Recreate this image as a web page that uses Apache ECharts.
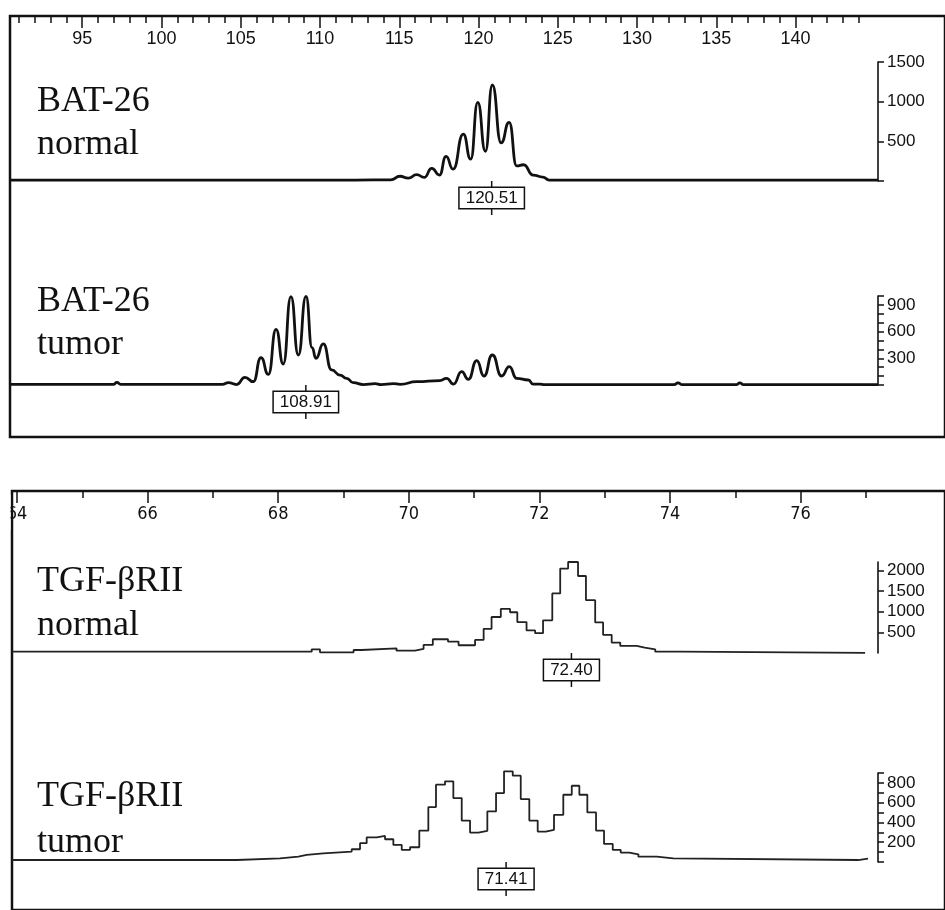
<!DOCTYPE html>
<html><head><meta charset="utf-8">
<script src="https://cdn.jsdelivr.net/npm/echarts@6/dist/echarts.min.js"></script>
<style>html,body{margin:0;padding:0;background:#fff}#c{width:945px;height:910px}</style>
</head><body><div id="c"></div><script>
// ---------- data ----------
const topMajorTicks = [95, 100, 105, 110, 115, 120, 125, 130, 135, 140];
const topMinorTicks = [91, 92, 93, 94, 95, 96, 97, 98, 99, 100, 101, 102, 103, 104, 105, 106, 107, 108, 109, 110, 111, 112, 113, 114, 115, 116, 117, 118, 119, 120, 121, 122, 123, 124, 125, 126, 127, 128, 129, 130, 131, 132, 133, 134, 135, 136, 137, 138, 139, 140, 141, 142, 143, 144];
const botMajorTicks = [64, 66, 68, 70, 72, 74, 76];
const botMinorTicks = [64, 65, 66, 67, 68, 69, 70, 71, 72, 73, 74, 75, 76, 77];

const batNormalTicks = [0, 500, 1000, 1500];
const batNormalLabels = [500, 1000, 1500];
const batTumorTicks = [0, 100, 200, 300, 400, 500, 600, 700, 800, 900, 1000];
const batTumorLabels = [300, 600, 900];
const tgfNormalTicks = [500, 1000, 1500, 2000];
const tgfNormalLabels = [500, 1000, 1500, 2000];
const tgfTumorTicks = [0, 100, 200, 300, 400, 500, 600, 700, 800, 900];
const tgfTumorLabels = [200, 400, 600, 800];

// [size (bp), fluorescence]
const batNormal = [[90.44,12],[112,12],[114.2,14],[114.79,60],[115.3,35],[115.83,80],[116.3,45],[116.77,160],[117.25,75],[117.66,310],[118.1,150],[118.74,590],[119.2,275],[119.64,990],[120.12,375],[120.55,1210],[121.1,480],[121.6,740],[122.07,190],[122.5,205],[123.1,75],[123.7,50],[124.1,12],[126,12],[144.62,12]];
const batTumor = [[90.44,8],[96.9,8],[97.12,30],[97.35,8],[103.7,8],[104.07,26],[104.59,5],[105.11,86],[105.63,37],[106.11,307],[106.57,120],[107.05,626],[107.5,236],[107.98,993],[108.44,337],[108.92,995],[109.3,420],[109.54,300],[110.0,461],[110.52,169],[111.04,112],[111.46,75],[111.87,26],[112.5,5],[113.23,15],[113.6,5],[114.37,15],[114.8,8],[115.83,37],[117.28,50],[117.7,75],[118.12,10],[118.64,150],[119.05,64],[119.58,273],[120.03,101],[120.55,337],[121.13,101],[121.61,206],[122.07,75],[122.8,56],[123.1,10],[123.53,10],[123.8,5],[131.9,5],[132.14,25],[132.4,5],[135.8,5],[136.0,25],[136.2,5],[144.62,5]];
// step traces: [start of bin, level]
const tgfNormal = [[63.924,32],[68.465,90],[68.59,17],[69.1,73],[69.22,114],[69.75,57],[70.03,98],[70.16,195],[70.30,333],[70.53,276],[70.69,187],[70.94,317],[71.07,585],[71.19,870],[71.33,1065],[71.47,985],[71.58,748],[71.72,545],[71.85,480],[71.97,789],[72.11,1440],[72.23,2042],[72.35,2200],[72.50,1862],[72.62,1277],[72.76,740],[72.88,439],[73.01,252],[73.14,171],[73.39,130],[73.51,90],[73.67,32],[74.04,5],[76.85,5]];
const tgfTumor = [[63.924,20],[67.329,37],[67.985,54],[68.262,71],[68.389,88],[68.641,105],[69.071,129],[69.197,190],[69.298,250],[69.45,264],[69.576,230],[69.702,173],[69.829,122],[69.955,149],[70.095,318],[70.232,555],[70.348,782],[70.485,816],[70.611,646],[70.738,419],[70.864,298],[70.989,315],[71.126,511],[71.258,697],[71.379,917],[71.511,873],[71.632,636],[71.762,419],[71.889,308],[72.011,325],[72.136,477],[72.277,680],[72.405,771],[72.52,680],[72.641,501],[72.773,318],[72.894,183],[73.026,122],[73.147,95],[73.277,78],[73.414,54],[73.692,37],[73.944,20],[76.742,35],[76.894,35]];

const peakLabels = ['120.51', '108.91', '72.40', '71.41'];
const panelTitles = [['BAT-26', 'normal'], ['BAT-26', 'tumor'], ['TGF-\u03B2RII', 'normal'], ['TGF-\u03B2RII', 'tumor']];

// ---------- chart ----------
const chart = echarts.init(document.getElementById('c'), null, {renderer: 'canvas'});
const SANS = '"Liberation Sans", Arial, Helvetica, sans-serif';
const NARROW = '"Liberation Sans Narrow", "DejaVu Sans Condensed", "Arial Narrow", "Liberation Sans", sans-serif';
const black = '#111';
const plain = function (v) { return String(v); };

function tickAxis(grid, min, max, ticks, len, labels, font) {
  return {
    type: 'value', gridIndex: grid, position: 'top', min: min, max: max,
    axisLine: {show: false, onZero: false},
    axisTick: {show: true, inside: true, length: len, customValues: ticks, lineStyle: {color: black, width: 1.5}},
    axisLabel: labels ? {show: true, inside: true, customValues: labels, formatter: plain, margin: 14, fontSize: 18, color: black, fontFamily: font} : {show: false},
    splitLine: {show: false}
  };
}
function hiddenX(grid, min, max) {
  return {type: 'value', gridIndex: grid, min: min, max: max, show: false, axisLine: {onZero: false}, splitLine: {show: false}};
}
function hiddenY(grid) {
  return {type: 'value', gridIndex: grid, min: 0, max: 1, show: false, axisLine: {onZero: false}, splitLine: {show: false}};
}
function rightY(grid, max, ticks, labels) {
  return {
    type: 'value', gridIndex: grid, position: 'right', min: 0, max: max,
    axisLine: {show: true, onZero: false, lineStyle: {color: black, width: 1.6}},
    axisTick: {show: true, length: 6, customValues: ticks, lineStyle: {color: black, width: 1.5}},
    axisLabel: {show: true, customValues: labels, formatter: plain, margin: 9, fontSize: 17, color: black, fontFamily: SANS},
    splitLine: {show: false}
  };
}
function peakMark(label, x) {
  return {
    silent: true,
    symbol: 'rect', symbolSize: [1.5, 34], symbolOffset: [0, 17],
    itemStyle: {color: black},
    label: {
      show: true, position: 'inside', formatter: label, fontSize: 17, color: black, fontFamily: SANS,
      backgroundColor: '#fff', borderColor: black, borderWidth: 1.5, padding: [2, 6, 1, 6]
    },
    data: [{coord: [x, 0]}]
  };
}

const titleY = [[102, 145], [302, 345], [582, 626], [797, 843]];
const graphics = [];
panelTitles.forEach(function (t, i) {
  graphics.push({type: 'text', x: 37, y: titleY[i][0], z: 50, style: {text: t[0], font: '36px "Liberation Serif", "Times New Roman", serif', fill: black, verticalAlign: 'middle'}});
  graphics.push({type: 'text', x: 37, y: titleY[i][1], z: 50, style: {text: t[1], font: '36px "Liberation Serif", "Times New Roman", serif', fill: black, verticalAlign: 'middle'}});
});
graphics.push({type: 'rect', x: 0, y: 495, z: 100, shape: {width: 10.5, height: 35}, style: {fill: '#fff'}});

const option = {
  animation: false,
  backgroundColor: '#fff',
  grid: [
    {left: 10, top: 16, right: -10, height: 421, show: true, borderColor: black, borderWidth: 2.5, backgroundColor: 'transparent'},
    {left: 10, right: 67, top: 62, height: 119},
    {left: 10, right: 67, top: 296, height: 89},
    {left: 12, top: 491, right: -10, height: 450, show: true, borderColor: black, borderWidth: 2.5, backgroundColor: 'transparent'},
    {left: 12, right: 67, top: 562, height: 91},
    {left: 12, right: 67, top: 773, height: 89}
  ],
  xAxis: [
    tickAxis(0, 90.443, 149.43, topMinorTicks, 7, null, SANS),
    tickAxis(0, 90.443, 149.43, topMajorTicks, 12, topMajorTicks, SANS),
    hiddenX(1, 90.443, 144.625),
    hiddenX(2, 90.443, 144.625),
    tickAxis(3, 63.924, 78.212, botMinorTicks, 7, null, NARROW),
    tickAxis(3, 63.924, 78.212, botMajorTicks, 12, botMajorTicks, NARROW),
    hiddenX(4, 63.924, 77.045),
    hiddenX(5, 63.924, 77.045)
  ],
  yAxis: [
    hiddenY(0),
    rightY(1, 1500, batNormalTicks, batNormalLabels),
    rightY(2, 1000, batTumorTicks, batTumorLabels),
    hiddenY(3),
    rightY(4, 2200, tgfNormalTicks, tgfNormalLabels),
    rightY(5, 900, tgfTumorTicks, tgfTumorLabels)
  ],
  series: [
    {type: 'line', xAxisIndex: 2, yAxisIndex: 1, data: batNormal, smooth: 0.55, smoothMonotone: 'x', symbol: 'none', clip: false,
      lineStyle: {color: black, width: 2.8}, markPoint: peakMark(peakLabels[0], parseFloat(peakLabels[0]))},
    {type: 'line', xAxisIndex: 3, yAxisIndex: 2, data: batTumor, smooth: 0.55, smoothMonotone: 'x', symbol: 'none', clip: false,
      lineStyle: {color: black, width: 2.8}, markPoint: peakMark(peakLabels[1], parseFloat(peakLabels[1]))},
    {type: 'line', xAxisIndex: 6, yAxisIndex: 4, data: tgfNormal, step: 'end', symbol: 'none', clip: false,
      lineStyle: {color: '#222', width: 1.8}, markPoint: peakMark(peakLabels[2], parseFloat(peakLabels[2]))},
    {type: 'line', xAxisIndex: 7, yAxisIndex: 5, data: tgfTumor, step: 'end', symbol: 'none', clip: false,
      lineStyle: {color: '#222', width: 1.8}, markPoint: peakMark(peakLabels[3], parseFloat(peakLabels[3]))}
  ],
  graphic: graphics
};
chart.setOption(option);
</script></body></html>
